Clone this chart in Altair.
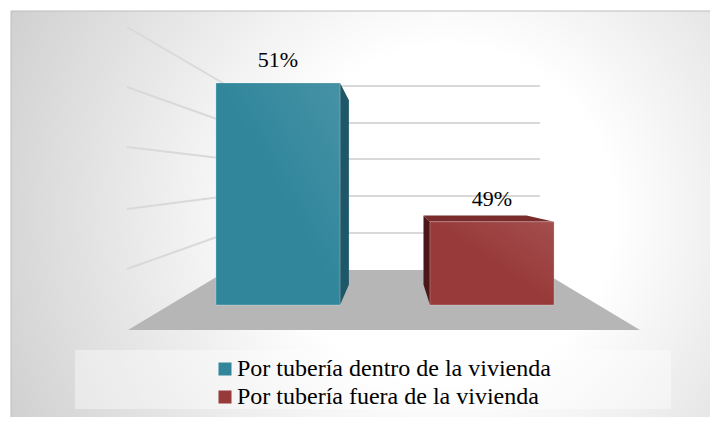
import altair as alt
import pandas as pd

# ---------------- data ----------------
categories = ["Por tubería dentro de la vivienda", "Por tubería fuera de la vivienda"]
values = [51, 49]
labels = ["51%", "49%"]
front_colors = ["#31869B", "#993A3A"]
side_colors = ["#1E5767", "#4A1818"]
top_colors = ["#2A7488", "#7A2B2B"]

SERIF = "Liberation Serif"

# ---------------- scene geometry (3D look) ----------------
W, H = 702, 409
BASE = 47.8          # value axis minimum (bar floor)
K = 69.4             # px per percentage point on bar front plane
Y_FRONT = 305        # page y of bar bottoms
X0, STEP = 278, 214  # page x of first category centre, category spacing
HALF = 0.29          # half bar width (category units)
VPX_PAGE, VPY_PAGE, F = 392, 185, 0.17   # vanishing point and depth factor


def px(x):
    return (x - X0) / STEP


def py(y):
    return BASE + (Y_FRONT - y) / K


VX, VY = px(VPX_PAGE), py(VPY_PAGE)

back_grid_y = [86, 123, 159, 196, 233]     # back wall gridlines (page y)
wall_outer_y = [27, 87, 147, 209, 269]     # left wall gridlines at outer edge
WALL_OUTER_X, BACK_LEFT_X, BACK_RIGHT_X = 127, 228, 540
FLOOR_BACK_Y, FLOOR_FRONT_Y = 270, 330
FLOOR_FRONT_LEFT, FLOOR_FRONT_RIGHT = 128, 640

x_scale = alt.Scale(domain=[px(8), px(8 + W)], nice=False, zero=False)
y_scale = alt.Scale(domain=[py(8 + H), py(8)], nice=False, zero=False)

# background
bg_df = pd.DataFrame({"x": [px(11)], "x2": [px(8 + W + 2)], "y": [py(11)], "y2": [py(8 + H + 2)]})
bg = alt.Chart(bg_df).mark_rect(
    fill={"gradient": "radial", "x1": 0.62, "y1": 0.5, "r1": 0, "x2": 0.62, "y2": 0.5, "r2": 0.8,
          "stops": [{"offset": 0, "color": "#ffffff"}, {"offset": 0.3, "color": "#ffffff"},
                    {"offset": 1, "color": "#c4c4c4"}]},
    stroke="#bdbdbd", strokeWidth=1,
).encode(
    x=alt.X("x:Q", scale=x_scale, axis=None), x2="x2:Q",
    y=alt.Y("y:Q", scale=y_scale, axis=None), y2="y2:Q",
)

# gridlines
grid_df = pd.DataFrame({
    "x": [px(BACK_LEFT_X)] * 5, "x2": [px(BACK_RIGHT_X)] * 5,
    "y": [py(v) for v in back_grid_y], "y2": [py(v) for v in back_grid_y],
})
wall_df = pd.DataFrame({
    "x": [px(WALL_OUTER_X)] * 5, "x2": [px(BACK_LEFT_X)] * 5,
    "y": [py(v) for v in wall_outer_y], "y2": [py(v) for v in back_grid_y],
})
lines_df = pd.concat([grid_df, wall_df], ignore_index=True)
grid = alt.Chart(lines_df).mark_rule(color="#d9d9d9", strokeWidth=2).encode(
    x="x:Q", x2="x2:Q", y="y:Q", y2="y2:Q")

# floor
floor_df = pd.DataFrame({
    "y": [py(FLOOR_BACK_Y), py(FLOOR_FRONT_Y)],
    "x": [px(BACK_LEFT_X), px(FLOOR_FRONT_LEFT)],
    "x2": [px(BACK_RIGHT_X), px(FLOOR_FRONT_RIGHT)],
})
floor = alt.Chart(floor_df).mark_area(orient="horizontal", color="#b6b6b6").encode(
    y="y:Q", x="x:Q", x2="x2:Q")

# bars
bars_df = pd.DataFrame({
    "category": categories, "value": values, "label": labels,
    "idx": list(range(len(values))),
})
bars_df["xl"] = bars_df["idx"] - HALF
bars_df["xr"] = bars_df["idx"] + HALF
bars_df["base"] = BASE


def back(x, y):
    return x + F * (VX - x), y + F * (VY - y)


side_rows, top_rows = [], []
for i, r in bars_df.iterrows():
    xl, xr, yt, yb = r.xl, r.xr, r.value, BASE
    if xr < VX:  # right face visible
        bx, byt = back(xr, yt)
        _, byb = back(xr, yb)
        side_rows += [{"face": i, "x": xr, "y": yt, "y2": yb, "fill": side_colors[i]},
                      {"face": i, "x": bx, "y": byt, "y2": byb, "fill": side_colors[i]}]
    if xl > VX:  # left face visible
        bx, byt = back(xl, yt)
        _, byb = back(xl, yb)
        side_rows += [{"face": i, "x": bx, "y": byt, "y2": byb, "fill": side_colors[i]},
                      {"face": i, "x": xl, "y": yt, "y2": yb, "fill": side_colors[i]}]
    if yt < VY:  # top face visible
        bxl, byt = back(xl, yt)
        bxr, _ = back(xr, yt)
        top_rows += [{"face": i, "y": yt, "x": xl, "x2": xr, "fill": top_colors[i]},
                     {"face": i, "y": byt, "x": bxl, "x2": bxr, "fill": top_colors[i]}]

side = alt.Chart(pd.DataFrame(side_rows)).mark_area(orient="vertical").encode(
    x="x:Q", y="y:Q", y2="y2:Q", detail="face:N", fill=alt.Fill("fill:N", scale=None))
layers = [bg, grid, floor, side]
if top_rows:
    top = alt.Chart(pd.DataFrame(top_rows)).mark_area(orient="horizontal").encode(
        y="y:Q", x="x:Q", x2="x2:Q", detail="face:N", fill=alt.Fill("fill:N", scale=None))
    layers.append(top)

front = alt.Chart(bars_df).mark_rect(opacity=1).encode(
    x="xl:Q", x2="xr:Q", y="value:Q", y2="base:Q",
    color=alt.Color("category:N", scale=alt.Scale(domain=categories, range=front_colors),
                    legend=alt.Legend(title=None, orient="none", legendX=205, legendY=349,
                                      symbolType="square", symbolSize=169, symbolStrokeWidth=0,
                                      symbolOpacity=1, labelFont=SERIF,
                                      labelFontSize=24, labelColor="#000000", labelLimit=700,
                                      labelOffset=0, rowPadding=4, padding=0)),
)
shine = alt.Chart(bars_df).mark_rect(
    fill={"gradient": "linear", "x1": 0, "y1": 1, "x2": 1, "y2": 0,
          "stops": [{"offset": 0, "color": "rgba(255,255,255,0)"},
                    {"offset": 0.5, "color": "rgba(255,255,255,0)"},
                    {"offset": 1, "color": "rgba(255,255,255,0.10)"}]},
    stroke="#ffffff", strokeOpacity=0.25, strokeWidth=1,
).encode(x="xl:Q", x2="xr:Q", y="value:Q", y2="base:Q")

text = alt.Chart(bars_df).mark_text(
    font=SERIF, fontSize=22, color="#000000", dy=-16, baseline="alphabetic", align="center"
).encode(x="idx:Q", y="value:Q", text="label:N")

# legend box
lg_df = pd.DataFrame({"x": [px(75)], "x2": [px(671)], "y": [py(350)], "y2": [py(409)]})
legend_box = alt.Chart(lg_df).mark_rect(fill="#ffffff", opacity=0.4).encode(
    x="x:Q", x2="x2:Q", y="y:Q", y2="y2:Q")

layers += [legend_box, front, shine, text]

chart = alt.layer(*layers).properties(
    width=W, height=H, autosize=alt.AutoSizeParams(type="none"), padding=0
).configure(font=SERIF).configure_view(strokeWidth=0)

chart.save("out.html", embed_options={"renderer": "svg", "actions": False})
